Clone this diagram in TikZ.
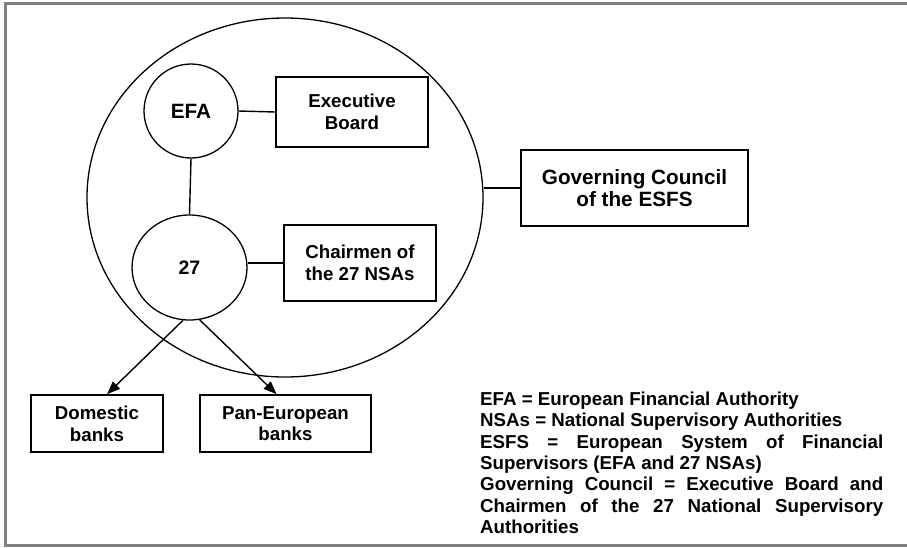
\documentclass[tikz,border=0pt]{standalone}
\usepackage{fontspec}
\setmainfont{Liberation Sans}
\usetikzlibrary{arrows.meta,shapes.geometric}
\definecolor{framegray}{HTML}{808080}
\begin{document}
\begin{tikzpicture}[x=1pt,y=-1pt,
  txt/.style={font=\bfseries\fontsize{18.7}{21.7}\selectfont},
  bigtxt/.style={font=\bfseries\fontsize{20.7}{22.7}\selectfont},
  box/.style={draw,line width=1.7pt,rectangle,inner sep=0pt,align=center},
  oval/.style={draw,line width=1.3pt,ellipse,inner sep=0pt},
  link/.style={line width=1.4pt},
  arr/.style={line width=1.4pt,-{Triangle[length=13pt,width=10pt]}}]
\useasboundingbox (0,0) rectangle (907,547);
\draw[framegray,line width=3pt] (907,3.5) -- (5.5,3.5) -- (5.5,545.5) -- (907,545.5);

\node[oval,minimum width=396pt,minimum height=359pt] (outer) at (285,197.5) {};
\node[oval,bigtxt,minimum width=94pt,minimum height=94pt] (efa) at (191,111) {EFA};
\node[oval,minimum width=115pt,minimum height=105pt,font=\bfseries\fontsize{19.5}{22}\selectfont] (n27) at (189.5,267.5) {27};

\node[box,txt,minimum width=152pt,minimum height=70pt] (exec) at (352,112) {Executive\\Board};
\node[box,txt,minimum width=152pt,minimum height=76pt] (chair) at (360,263) {Chairmen of\\the 27 NSAs};
\node[box,bigtxt,minimum width=227pt,minimum height=76pt] (gov) at (634.5,188) {Governing Council\\of the ESFS};
\node[box,txt,minimum width=132pt,minimum height=57pt] (dom) at (97,423.5) {Domestic\\banks};
\node[box,txt,minimum width=171pt,minimum height=57pt] (pan) at (285.5,423.5) {Pan-European\\banks};

\draw[link] (efa.east) -- (exec.west);
\draw[link] (efa.south) -- (n27.north);
\draw[link] (chair.west) -- (chair.west -| n27.east);
\draw[link] (gov.west) -- (gov.west -| outer.east);
\draw[arr] (n27.-97) -- (dom.71);
\draw[arr] (n27.-79) -- (pan.107);

\node[anchor=north west,inner sep=0pt,text width=403pt,align=justify,
      font=\bfseries\fontsize{18.7}{21.4}\selectfont] (legend) at (480,391.5)
{\hyphenpenalty=10000
EFA = European Financial Authority\par
NSAs = National Supervisory Authorities\par
ESFS = European System of Financial\linebreak Supervisors (EFA and 27 NSAs)\par
Governing Council = Executive Board and\linebreak Chairmen of the 27 National Supervisory\linebreak Authorities\par};
\end{tikzpicture}
\end{document}
